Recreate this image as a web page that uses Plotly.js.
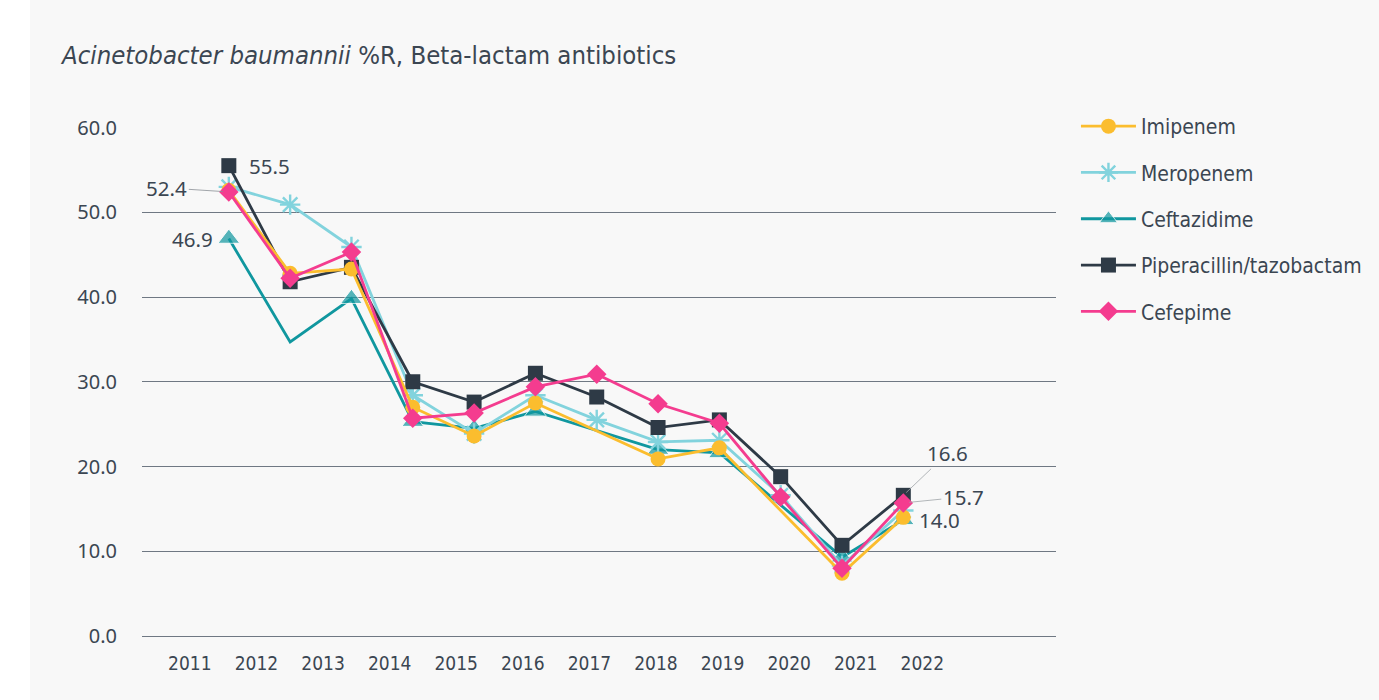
<!DOCTYPE html>
<html>
<head>
<meta charset="utf-8">
<script src="https://cdn.plot.ly/plotly-3.0.1.min.js"></script>
<style>
html,body{margin:0;padding:0;background:#ffffff;}
#chart{position:absolute;left:30px;top:0;width:1349px;height:700px;}
</style>
</head>
<body>
<div id="chart"></div>
<script>
const years = ['2011','2012','2013','2014','2015','2016','2017','2018','2019','2020','2021','2022'];
const imipenem    = [52.6, 42.8, 43.3, 27.0, 23.6, 27.5, null, 20.9, 22.2, null, 7.4, 14.0];
const meropenem   = [53.0, 50.9, 45.9, 28.4, 23.9, 28.4, 25.5, 22.9, 23.1, 16.6, 8.3, 14.8];
const ceftazidime = [46.9, 34.7, 39.8, 25.3, 24.5, 26.5, null, 22.0, 21.6, null, 9.3, 13.7];
const piptazo     = [55.5, 41.8, 43.5, 30.0, 27.6, 31.0, 28.2, 24.6, 25.5, 18.8, 10.7, 16.6];
const cefepime    = [52.4, 42.2, 45.3, 25.7, 26.3, 29.4, 30.9, 27.4, 25.1, 16.4, 8.0, 15.7];
const seriesNames = ['Imipenem','Meropenem','Ceftazidime','Piperacillin/tazobactam','Cefepime'];
// marker visibility for Ceftazidime (the 2012 point is drawn without a marker)
const ceftazidimeMarkerShown = [true,false,true,true,true,true,true,true,true,true,true,true];

const textColor = '#3b4652';
const gridColor = '#6f7883';
const colors = {
  imi: '#fbbd2e',
  mero: '#82d3dd',
  cefta: '#10979f',
  pip: '#2e3a46',
  cefe: '#f43c8f'
};

function tr(name, y, color, symbol, size, rank, extra) {
  const t = {
    type: 'scatter', mode: 'lines+markers', name: name,
    x: years, y: y, connectgaps: true,
    line: {color: color, width: 2.8},
    marker: {color: color, symbol: symbol, size: size},
    legendrank: rank, legendgroup: name,
    hoverinfo: 'skip'
  };
  return Object.assign(t, extra || {});
}

const traces = [
  tr(seriesNames[2], ceftazidime, colors.cefta, 'triangle-up', 19, 3, {
    marker: {color: colors.cefta, symbol: 'triangle-up',
             size: ceftazidimeMarkerShown.map(s => s ? 19 : 0)}
  }),
  tr(seriesNames[1], meropenem, colors.mero, 'asterisk-open', 17, 2, {
    marker: {color: colors.mero, symbol: 'asterisk-open', size: 17,
             line: {color: colors.mero, width: 2.4}}
  }),
  tr(seriesNames[3], piptazo, colors.pip, 'square', 15, 4),
  tr(seriesNames[0], imipenem, colors.imi, 'circle', 15, 1),
  tr(seriesNames[4], cefepime, colors.cefe, 'diamond', 15, 5),
  {type: 'scatter', mode: 'lines', x: years, y: years.map(() => null),
   xaxis: 'x2', showlegend: false, hoverinfo: 'skip'}
];

const first = 0, last = years.length - 1;
const annFont = {family: 'Noto Sans, sans-serif', size: 20.5, color: textColor};
const annotations = [
  {xref: 'x', yref: 'y', x: first, y: piptazo[first], text: piptazo[first].toFixed(1), showarrow: false,
   xanchor: 'left', yanchor: 'middle', xshift: 18, font: annFont},
  {xref: 'x', yref: 'y', x: first, y: ceftazidime[first], text: ceftazidime[first].toFixed(1), showarrow: false,
   xanchor: 'right', yanchor: 'middle', xshift: -14, font: annFont},
  {xref: 'x', yref: 'y', x: first, y: cefepime[first], text: cefepime[first].toFixed(1), showarrow: true,
   arrowhead: 0, arrowwidth: 0.8, arrowcolor: '#8a8f95', ax: -62, ay: -4,
   standoff: 6, font: annFont},
  {xref: 'x', yref: 'y', x: last, y: piptazo[last], text: piptazo[last].toFixed(1), showarrow: true,
   arrowhead: 0, arrowwidth: 0.8, arrowcolor: '#a0a4a8', ax: 44, ay: -42,
   standoff: 4, font: annFont},
  {xref: 'x', yref: 'y', x: last, y: cefepime[last], text: cefepime[last].toFixed(1), showarrow: true,
   arrowhead: 0, arrowwidth: 0.8, arrowcolor: '#a0a4a8', ax: 60, ay: -6,
   standoff: 6, font: annFont},
  {xref: 'x', yref: 'y', x: last, y: imipenem[last], text: imipenem[last].toFixed(1), showarrow: false,
   xanchor: 'left', yanchor: 'middle', xshift: 14, yshift: -3, font: annFont}
];

const layout = {
  width: 1349, height: 700,
  paper_bgcolor: '#f8f8f8', plot_bgcolor: '#f8f8f8',
  margin: {l: 112, r: 321, t: 127, b: 64},
  title: {
    text: '<i>Acinetobacter baumannii</i> %R, Beta-lactam antibiotics',
    xref: 'container', yref: 'container', x: 32/1349, xanchor: 'left',
    y: 1 - 55/700, yanchor: 'middle',
    font: {family: 'DejaVu Sans Condensed, sans-serif', size: 25.5, color: textColor}
  },
  xaxis: {
    type: 'category', range: [-1.416, 13.49],
    showticklabels: false, showgrid: false, zeroline: false, showline: false, ticks: ''
  },
  xaxis2: {
    type: 'category', overlaying: 'x', anchor: 'y', side: 'bottom',
    categoryorder: 'array', categoryarray: years,
    range: [-0.719, 13.008],
    showgrid: false, zeroline: false, showline: false, ticks: '',
    ticklabelstandoff: 14,
    tickfont: {family: 'DejaVu Sans Condensed, sans-serif', size: 19, color: textColor}
  },
  yaxis: {
    range: [0, 60.06], dtick: 10, tick0: 0, tickformat: '.1f',
    showgrid: true, gridcolor: gridColor, gridwidth: 1,
    zeroline: true, zerolinecolor: gridColor, zerolinewidth: 1,
    showline: false, ticks: '', ticklabelstandoff: 24,
    tickfont: {family: 'Noto Sans, sans-serif', size: 20, color: textColor}
  },
  showlegend: true,
  legend: {
    x: (1048 - 112) / 916, xanchor: 'left', y: 1 + 21/509, yanchor: 'top',
    bgcolor: 'rgba(0,0,0,0)', traceorder: 'grouped', tracegroupgap: 16,
    itemwidth: 55,
    font: {family: 'DejaVu Sans Condensed, sans-serif', size: 21, color: textColor}
  },
  annotations: annotations
};

Plotly.newPlot('chart', traces, layout, {displayModeBar: false, staticPlot: true});
</script>
</body>
</html>
